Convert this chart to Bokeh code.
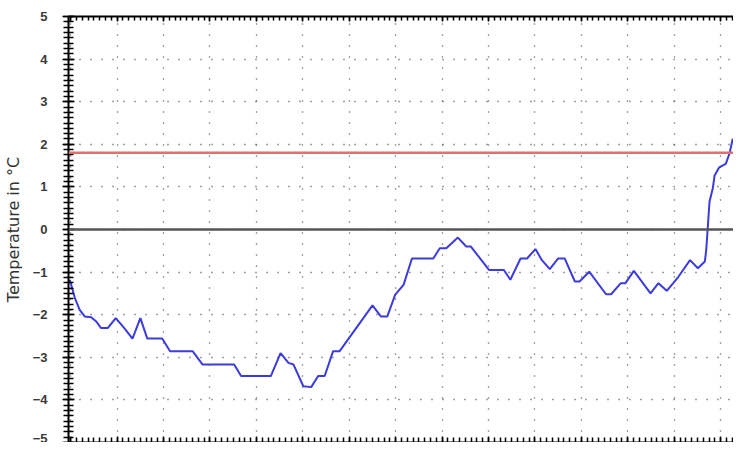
from bokeh.plotting import figure
from bokeh.models import LinearAxis, SingleIntervalTicker, Span, Range1d
from bokeh.embed import file_html
from bokeh.resources import INLINE

# time axis (grid interval = 1 unit), temperature in °C
time_x = [-0.02, 0.09, 0.19, 0.30, 0.44, 0.55, 0.65, 0.80, 0.97, 1.15, 1.33, 1.50,
          1.65, 1.97, 2.14, 2.63, 2.84, 3.52, 3.67, 4.31, 4.52, 4.69, 4.80, 5.01,
          5.18, 5.33, 5.47, 5.65, 5.79, 6.50, 6.68, 6.82, 6.99, 7.17, 7.35, 7.81,
          7.95, 8.09, 8.34, 8.52, 8.62, 9.01, 9.33, 9.47, 9.69, 9.83, 10.01, 10.15,
          10.32, 10.50, 10.64, 10.86, 10.96, 11.17, 11.53, 11.64, 11.85, 11.95,
          12.13, 12.49, 12.66, 12.84, 13.09, 13.34, 13.51, 13.66, 13.69, 13.72,
          13.76, 13.83, 13.87, 13.97, 14.11, 14.19, 14.26]
temp_c = [-1.18, -1.61, -1.88, -2.04, -2.06, -2.16, -2.31, -2.31, -2.08, -2.31,
          -2.56, -2.08, -2.56, -2.56, -2.86, -2.86, -3.17, -3.17, -3.44, -3.44,
          -2.90, -3.13, -3.17, -3.68, -3.70, -3.44, -3.44, -2.86, -2.86, -1.78,
          -2.04, -2.04, -1.53, -1.30, -0.68, -0.68, -0.44, -0.44, -0.19, -0.40,
          -0.40, -0.95, -0.95, -1.18, -0.68, -0.68, -0.46, -0.72, -0.93, -0.68,
          -0.68, -1.22, -1.22, -0.99, -1.52, -1.52, -1.26, -1.26, -0.97, -1.50,
          -1.26, -1.44, -1.11, -0.72, -0.91, -0.75, -0.48, 0.00, 0.65, 0.96,
          1.27, 1.46, 1.54, 1.78, 2.13]
threshold = 1.8

p = figure(width=733, height=442, output_backend="svg", toolbar_location=None,
           x_range=Range1d(-0.048, 14.277), y_range=Range1d(-5, 5),
           min_border_left=67, min_border_right=0, min_border_top=16,
           min_border_bottom=0, x_axis_location=None, y_axis_location=None)
p.outline_line_color = None
p.background_fill_color = "white"

# grids (dotted)
p.xgrid.ticker = SingleIntervalTicker(interval=1)
p.ygrid.ticker = SingleIntervalTicker(interval=1)
for g in (p.xgrid, p.ygrid):
    g.grid_line_color = "#444444"
    g.grid_line_dash = "1 10"
    g.grid_line_width = 1.3

def style(ax, tin, tout, labels=True):
    ax.axis_line_color = "black"
    ax.axis_line_width = 2
    ax.major_tick_line_color = "black"
    ax.minor_tick_line_color = "black"
    ax.major_tick_line_width = 1.5
    ax.minor_tick_line_width = 1.5
    ax.major_tick_in = tin
    ax.major_tick_out = tout
    ax.minor_tick_in = tin - 1
    ax.minor_tick_out = max(tout - 1, 0)
    if not labels:
        ax.major_label_text_font_size = "0px"
        ax.major_label_text_color = None
        ax.major_label_standoff = 0

left = LinearAxis(ticker=SingleIntervalTicker(interval=1, num_minor_ticks=8))
style(left, 6, 6)
left.major_label_text_font = "Liberation Sans"
left.major_label_text_font_style = "bold"
left.major_label_text_font_size = "13px"
left.major_label_text_color = "#3a3a3a"
left.major_label_standoff = 15
left.axis_label = "Temperature in °C"
left.axis_label_text_font = "DejaVu Sans"
left.axis_label_text_font_style = "normal"
left.axis_label_text_font_size = "16px"
left.axis_label_text_color = "#333333"
left.axis_label_standoff = 7
p.add_layout(left, "left")

bottom = LinearAxis(ticker=SingleIntervalTicker(interval=1, num_minor_ticks=8))
style(bottom, 6, 0, labels=False)
p.add_layout(bottom, "below")

top = LinearAxis(ticker=SingleIntervalTicker(interval=1, num_minor_ticks=8))
style(top, 5, 0, labels=False)
p.add_layout(top, "above")

p.add_layout(Span(location=0, dimension="width", line_color="#555555", line_width=2.5))
p.add_layout(Span(location=threshold, dimension="width", line_color="#e07070", line_width=2.5))

p.line(time_x, temp_c, line_color="#3c3cdc", line_width=2)

open("out.html", "w").write(file_html(p, INLINE))
